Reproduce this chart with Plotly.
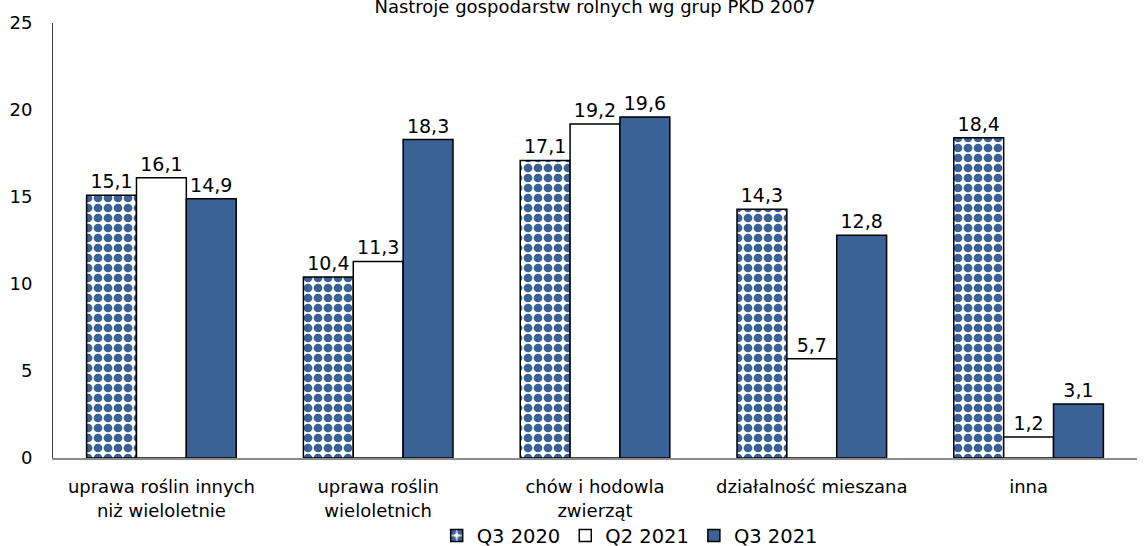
import plotly.graph_objects as go

categories = ["uprawa roślin innych<br>niż wieloletnie", "uprawa roślin<br>wieloletnich",
              "chów i hodowla<br>zwierząt", "działalność mieszana", "inna"]
q3_2020 = [15.1, 10.4, 17.1, 14.3, 18.4]
q2_2021 = [16.1, 11.3, 19.2, 5.7, 1.2]
q3_2021 = [14.9, 18.3, 19.6, 12.8, 3.1]
series_names = ["Q3 2020", "Q2 2021", "Q3 2021"]
yticks = [0, 5, 10, 15, 20, 25]

BLUE = "#3A6296"
FONT = "DejaVu Sans"
FS = 18

def fmt(v):
    return f"{v:.1f}".replace(".", ",")

fig = go.Figure()
fig.add_trace(go.Bar(
    x=categories, y=q3_2020, name=series_names[0],
    marker=dict(color="white", line=dict(color="black", width=1.5),
                pattern=dict(shape=".", fgcolor=BLUE, fgopacity=1, bgcolor="white",
                             size=10, solidity=0.6, fillmode="replace")),
    text=[fmt(v) for v in q3_2020], textposition="outside", cliponaxis=False,
))
fig.add_trace(go.Bar(
    x=categories, y=q2_2021, name=series_names[1],
    marker=dict(color="white", line=dict(color="black", width=1.5)),
    text=[fmt(v) for v in q2_2021], textposition="outside", cliponaxis=False,
))
fig.add_trace(go.Bar(
    x=categories, y=q3_2021, name=series_names[2],
    marker=dict(color=BLUE, line=dict(color="black", width=1.5)),
    text=[fmt(v) for v in q3_2021], textposition="outside", cliponaxis=False,
))
fig.update_traces(textfont=dict(family=FONT, size=19, color="black"))

fig.update_layout(
    width=1144, height=546,
    paper_bgcolor="white", plot_bgcolor="white",
    font=dict(family=FONT, size=FS, color="black"),
    margin=dict(l=53, r=7, t=23, b=88, autoexpand=False),
    barmode="group", bargap=0.31, bargroupgap=0,
    title=dict(text="Nastroje gospodarstw rolnych wg grup PKD 2007", x=0.5, xref="paper",
               y=1 - 7 / 546, yref="container", yanchor="middle",
               font=dict(family=FONT, size=FS, color="black")),
    showlegend=True,
    legend=dict(orientation="h", x=0.532, xanchor="center", yref="paper", y=-0.134, yanchor="top",
                bgcolor="rgba(0,0,0,0)",
                font=dict(family=FONT, size=19.5), itemwidth=30, tracegroupgap=0),
    xaxis=dict(showline=True, linecolor="#8c8c8c", linewidth=1.5, ticks="", showgrid=False,
               automargin=False, ticklabelstandoff=12,
               tickfont=dict(family=FONT, size=FS)),
    yaxis=dict(range=[0, 25], tickvals=yticks, showline=True, linecolor="#404040", linewidth=1,
               showgrid=False, zeroline=False, ticks="", ticklabelstandoff=16, automargin=False,
               tickfont=dict(family=FONT, size=FS)),
)

fig.write_html("out.html", config={"displayModeBar": False},
               post_script="document.body.style.margin='0';document.body.style.overflow='hidden';")
